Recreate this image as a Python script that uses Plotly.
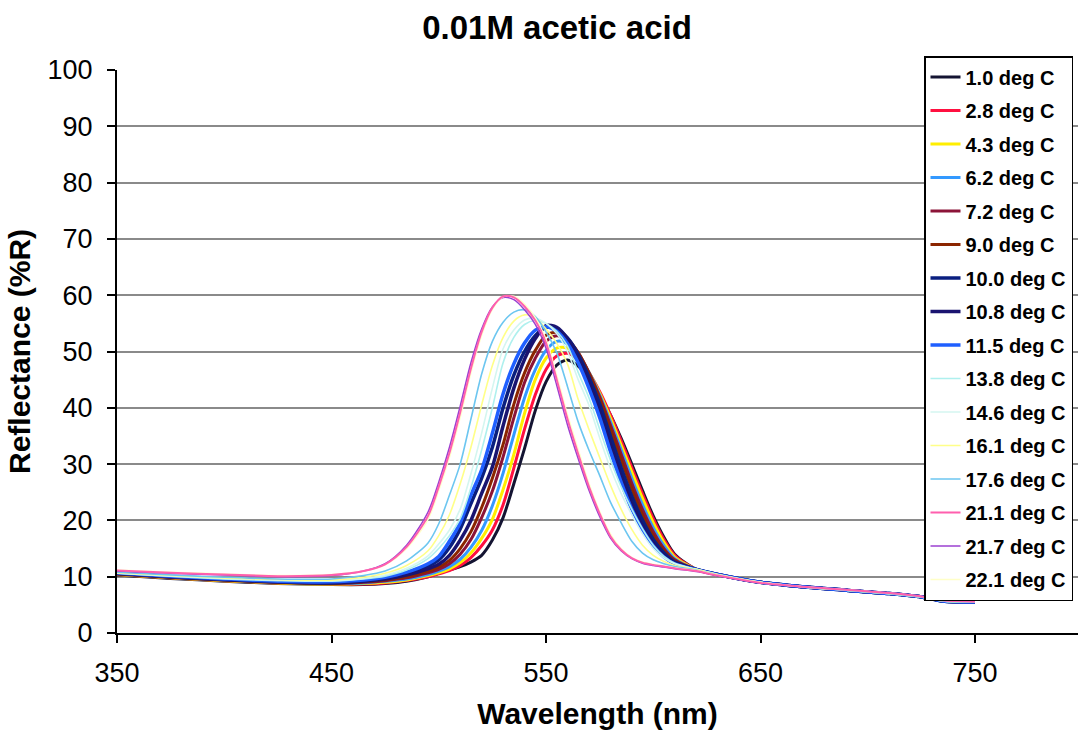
import plotly.graph_objects as go

# Wavelength grid (nm) shared by every series
wavelength = [350, 375, 400, 425, 450, 465, 475, 485, 495, 500, 505, 510, 515, 520, 525,
              530, 535, 540, 545, 550, 555, 560, 565, 570, 575, 580, 585, 590, 595, 600,
              605, 610, 620, 630, 650, 670, 690, 710, 725, 735, 750]

tail = [11.3, 10.4, 9.0, 8.2, 7.6, 7.0, 6.4, 5.7, 5.5]

r_1_0 = [10.3, 9.7, 9.2, 8.8, 8.6, 8.6, 8.8, 9.2, 10.0, 10.6, 11.2, 11.8, 12.6, 13.8, 16.5,
         20.5, 26.5, 32.8, 39.5, 44.6, 47.6, 48.5, 47.4, 45.2, 42.3, 38.8, 34.6, 30.0, 25.3, 20.8,
         17.0, 14.0] + tail
r_2_8 = [10.4, 9.8, 9.3, 8.9, 8.7, 8.7, 8.9, 9.3, 10.0, 10.5, 11.1, 12.0, 13.4, 15.5, 18.3,
         22.8, 29.3, 36.2, 42.3, 46.8, 49.2, 49.7, 48.6, 46.2, 42.9, 38.8, 34.2, 29.4, 24.7, 20.3,
         16.6, 13.8] + tail
r_4_3 = [10.4, 9.8, 9.3, 8.9, 8.7, 8.8, 9.0, 9.4, 10.2, 10.7, 11.4, 12.5, 14.2, 16.8, 20.2,
         25.5, 31.7, 39.0, 45.0, 48.8, 50.6, 50.6, 49.0, 46.3, 42.6, 38.2, 33.4, 28.6, 23.9, 19.6,
         16.1, 13.5] + tail
r_6_2 = [10.5, 9.9, 9.4, 9.0, 8.8, 8.9, 9.2, 9.6, 10.4, 11.0, 11.8, 13.1, 15.2, 18.2, 22.6,
         28.4, 35.2, 41.8, 46.8, 50.2, 51.8, 51.4, 49.5, 46.3, 42.3, 37.6, 32.6, 27.5, 22.8, 18.7,
         15.5, 13.2] + tail
r_7_2 = [10.5, 9.9, 9.4, 9.0, 8.8, 9.0, 9.3, 9.8, 10.7, 11.3, 12.3, 14.0, 16.6, 20.5, 25.2,
         31.3, 38.2, 44.5, 48.8, 51.8, 52.8, 52.0, 49.8, 46.3, 42.0, 37.0, 31.8, 26.6, 21.9, 18.0,
         15.0, 13.0] + tail
r_9_0 = [10.5, 9.9, 9.4, 9.0, 8.8, 9.1, 9.4, 10.0, 11.0, 11.7, 12.9, 15.0, 18.0, 22.3, 27.5,
         33.5, 40.6, 46.2, 50.2, 52.9, 53.4, 52.3, 49.8, 46.1, 41.6, 36.3, 30.8, 25.6, 21.0, 17.3,
         14.6, 12.8] + tail
r_10_0 = [10.6, 10.0, 9.5, 9.1, 8.9, 9.3, 9.8, 10.6, 11.9, 13.0, 15.2, 18.5, 23.0, 27.5, 33.0,
          40.0, 45.8, 50.0, 52.8, 54.3, 54.0, 52.4, 49.5, 45.5, 40.7, 35.0, 29.4, 24.3, 20.0, 16.6,
          14.2, 12.6] + tail
r_10_8 = [10.6, 10.0, 9.5, 9.1, 9.0, 9.2, 9.6, 10.3, 11.4, 12.2, 13.8, 16.5, 20.0, 24.8, 29.5,
          36.8, 43.5, 48.6, 52.3, 54.6, 54.3, 52.3, 49.0, 44.6, 39.5, 33.6, 28.0, 23.0, 19.0, 16.0,
          13.8, 12.4] + tail
r_11_5 = [10.7, 10.1, 9.6, 9.2, 9.1, 9.4, 9.9, 10.8, 12.3, 13.6, 16.3, 19.6, 24.5, 29.0, 35.5,
          42.5, 47.8, 51.5, 53.8, 54.4, 53.6, 51.4, 48.0, 43.5, 38.3, 32.3, 26.8, 22.0, 18.3, 15.5,
          13.5, 12.3] + tail
r_13_8 = [10.6, 10.1, 9.6, 9.3, 9.2, 9.6, 10.1, 11.2, 13.2, 15.0, 17.3, 20.3, 25.8, 32.5, 40.0,
          48.0, 52.5, 54.8, 55.5, 55.0, 53.6, 51.0, 46.3, 41.8, 36.2, 30.8, 26.0, 22.0, 18.5, 15.6,
          13.6, 12.4] + tail
r_14_6 = [10.6, 10.1, 9.7, 9.4, 9.3, 9.7, 10.3, 11.5, 13.7, 15.8, 18.3, 22.0, 28.3, 35.5, 43.5,
          50.5, 53.8, 55.6, 55.9, 55.0, 53.2, 50.0, 45.0, 40.5, 34.7, 29.3, 24.8, 21.0, 17.6, 15.0,
          13.3, 12.3] + tail
r_16_1 = [10.7, 10.2, 9.8, 9.5, 9.4, 9.9, 10.6, 12.0, 14.6, 17.3, 21.0, 26.5, 33.0, 40.5, 47.5,
          52.5, 55.4, 56.5, 56.0, 54.0, 51.5, 47.8, 41.5, 36.2, 31.2, 26.3, 22.0, 18.4, 15.6, 13.8,
          12.7, 12.0] + tail
r_17_6 = [10.8, 10.3, 9.9, 9.6, 9.6, 10.2, 11.0, 12.8, 16.0, 19.4, 24.5, 30.0, 38.0, 46.0, 51.8,
          55.2, 57.0, 57.4, 56.2, 53.5, 49.8, 43.8, 37.5, 32.5, 28.0, 23.3, 19.6, 16.3, 14.2, 13.0,
          12.3, 11.8] + [11.2, 10.3, 8.9, 8.2, 7.6, 7.0, 6.4, 5.7, 5.5]
r_21_1 = [11.1, 10.7, 10.4, 10.1, 10.3, 11.0, 12.2, 15.3, 20.8, 26.0, 32.0, 39.2, 47.0, 53.5, 57.8,
          59.8, 59.6, 58.0, 55.5, 51.5, 45.0, 38.0, 31.8, 26.0, 21.2, 17.2, 14.8, 13.3, 12.5, 12.1,
          11.8, 11.5] + [11.0, 10.2, 8.9, 8.2, 7.7, 7.1, 6.5, 5.8, 5.6]
r_21_7 = [11.0, 10.6, 10.3, 10.0, 10.2, 11.0, 12.3, 15.6, 21.5, 26.8, 33.0, 40.3, 48.0, 54.0, 57.9,
          59.6, 59.2, 57.4, 54.8, 50.6, 44.0, 37.0, 31.0, 25.4, 20.7, 16.9, 14.6, 13.2, 12.4, 12.0,
          11.7, 11.4] + [10.9, 10.2, 8.9, 8.2, 7.7, 7.1, 6.5, 5.8, 5.6]
r_22_1 = [11.2, 10.8, 10.5, 10.2, 10.4, 11.0, 12.1, 15.0, 20.2, 25.3, 31.2, 38.3, 46.2, 52.9, 57.5,
          59.7, 59.8, 58.4, 56.0, 52.2, 45.8, 38.8, 32.6, 26.6, 21.6, 17.6, 15.0, 13.4, 12.6, 12.2,
          11.9, 11.6] + [11.1, 10.3, 9.0, 8.2, 7.7, 7.1, 6.5, 5.8, 5.6]

labels = ["1.0 deg C", "2.8 deg C", "4.3 deg C", "6.2 deg C", "7.2 deg C", "9.0 deg C",
          "10.0 deg C", "10.8 deg C", "11.5 deg C", "13.8 deg C", "14.6 deg C", "16.1 deg C",
          "17.6 deg C", "21.1 deg C", "21.7 deg C", "22.1 deg C"]
values = [r_1_0, r_2_8, r_4_3, r_6_2, r_7_2, r_9_0, r_10_0, r_10_8, r_11_5, r_13_8, r_14_6,
          r_16_1, r_17_6, r_21_1, r_21_7, r_22_1]
colors = ["#141432", "#ff1040", "#ffee00", "#3399ff", "#8c1438", "#8b2500", "#0a1f80", "#1a1470",
          "#1f5fff", "#aef0ee", "#d4f6f0", "#ffff88", "#6cc6f0", "#ff5fae", "#9b40d0", "#ffffc8"]
widths = [3, 3, 3, 3, 3, 3, 3.5, 3.5, 3.5, 1.6, 1.6, 1.6, 1.6, 2, 1.5, 1.5]

# drawing order (pink drawn last so it stays visible over purple/pale yellow)
draw_order = [0, 1, 2, 3, 4, 5, 6, 7, 8, 9, 10, 11, 12, 14, 15, 13]

FONT = "Liberation Sans, Arial, sans-serif"

fig = go.Figure()
for i in draw_order:
    fig.add_trace(go.Scatter(
        x=wavelength, y=values[i], mode="lines", name=labels[i], legendgroup=labels[i],
        legendrank=i + 1,
        line=dict(color=colors[i], width=widths[i], shape="spline", smoothing=0.8),
    ))

W, H = 1078, 732
L, R, T, B = 117, 0, 70, 99
pw = W - L - R
ph = H - T - B

fig.update_layout(
    width=W, height=H,
    margin=dict(l=L, r=R, t=T, b=B),
    paper_bgcolor="white", plot_bgcolor="white",
    font=dict(family=FONT, color="black"),
    title=dict(text="0.01M acetic acid", x=557 / W, xanchor="center",
               y=1 - 27 / H, yanchor="middle",
               font=dict(family=FONT, size=33, weight="bold", color="black")),
    showlegend=True,
    legend=dict(x=(924 - L) / pw, xanchor="left", y=1 + 14 / ph, yanchor="top",
                bgcolor="white", bordercolor="black", borderwidth=1.5,
                font=dict(family=FONT, size=20, weight="bold", color="black"),
                tracegroupgap=4.5, traceorder="grouped", maxheight=700),
    xaxis=dict(range=[350, 350 + pw / 2.145], tickvals=[350, 450, 550, 650, 750],
               showgrid=False, zeroline=False, showline=True, linecolor="black", linewidth=2,
               ticks="outside", ticklen=8, tickcolor="black", tickwidth=1.5,
               tickfont=dict(family=FONT, size=27, color="black"), ticklabelstandoff=7,
               title=dict(text="Wavelength (nm)", standoff=16,
                          font=dict(family=FONT, size=30, weight="bold", color="black"))),
    yaxis=dict(range=[0, 100], tickvals=list(range(0, 101, 10)),
               showgrid=True, gridcolor="#8a8a8a", gridwidth=1.5, zeroline=False,
               showline=True, linecolor="black", linewidth=2,
               ticks="outside", ticklen=8, tickcolor="black", tickwidth=1.5,
               tickfont=dict(family=FONT, size=27, color="black"), ticklabelstandoff=9,
               title=dict(text="Reflectance (%R)", standoff=8,
                          font=dict(family=FONT, size=30, weight="bold", color="black"))),
)

fig.write_html("out.html", config={"displayModeBar": False},
               post_script="document.body.style.margin='0';document.body.style.padding='0';")
